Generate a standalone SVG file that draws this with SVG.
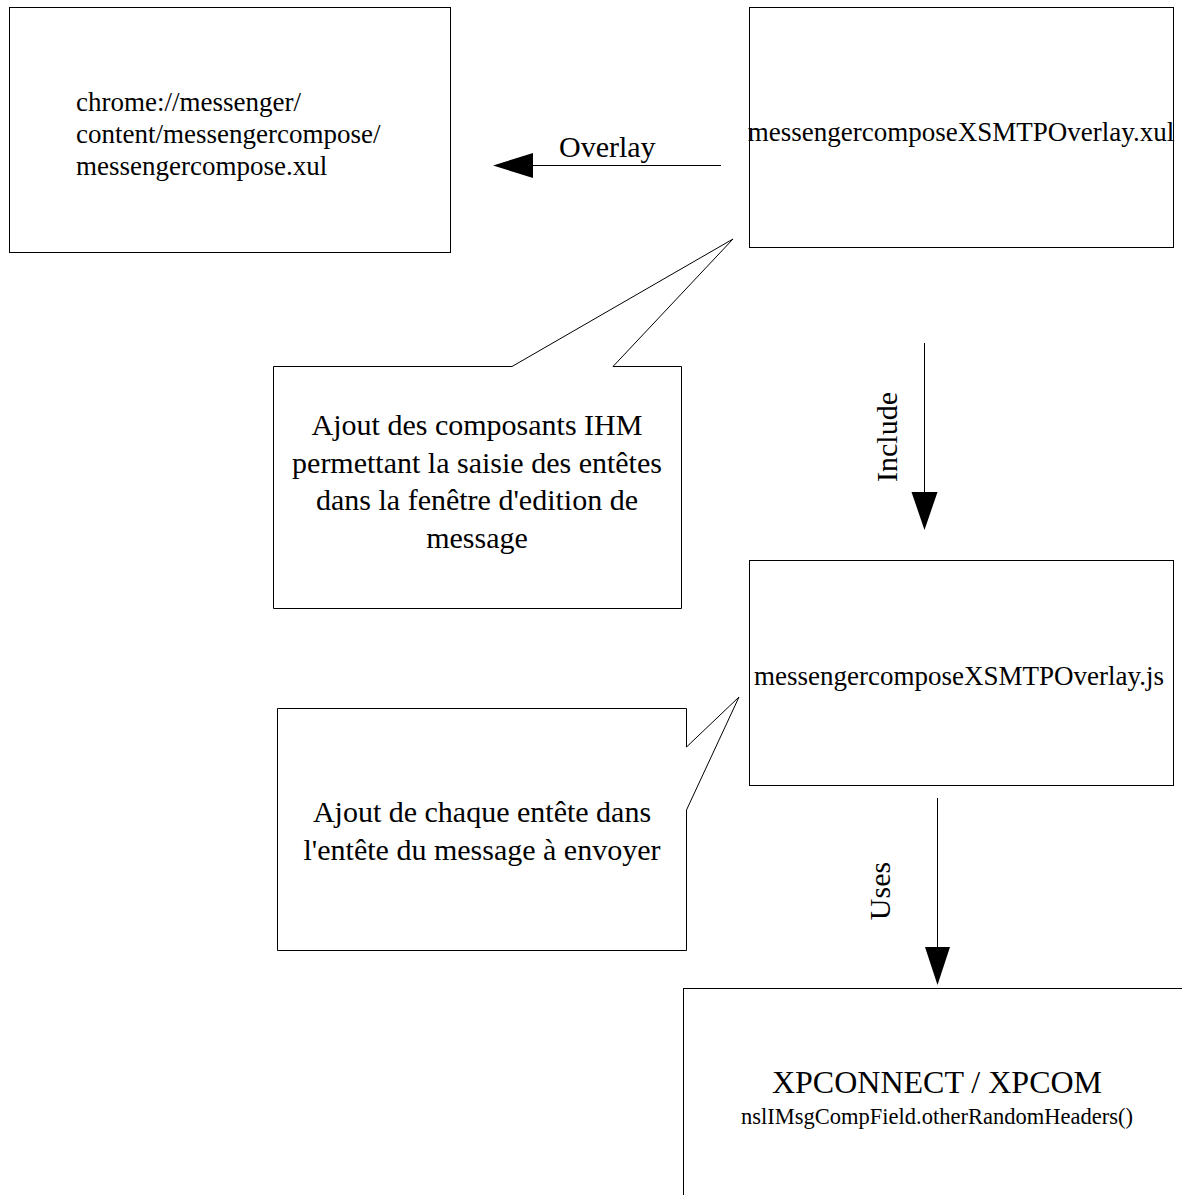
<svg xmlns="http://www.w3.org/2000/svg" width="1182" height="1195" viewBox="0 0 1182 1195">
  <style>
    .box { fill: #ffffff; stroke: #000000; stroke-width: 1; }
    .note { fill: #ffffff; stroke: #000000; stroke-width: 1; stroke-linejoin: miter; }
    .edge { fill: none; stroke: #000000; stroke-width: 1; }
    .head { fill: #000000; stroke: none; }
    text { font-family: "Liberation Serif", "Times New Roman", serif; fill: #000000; }
    .file { font-size: 27px; }
    .body { font-size: 30px; text-anchor: middle; }
    .lbl { font-size: 30px; }
  </style>
  <rect width="1182" height="1195" fill="#ffffff"/>

  <!-- connectors -->
  <g id="connectors">
    <g id="overlay-link">
      <line class="edge" x1="721" y1="165.5" x2="533" y2="165.5"/>
      <polygon class="head" points="493,165.5 533,153 533,178"/>
      <text class="lbl" x="559" y="157">Overlay</text>
    </g>
    <g id="include-link">
      <line class="edge" x1="924.5" y1="343" x2="924.5" y2="492"/>
      <polygon class="head" points="924.5,530 911.5,492 937.5,492"/>
      <text class="lbl" transform="translate(897 437) rotate(-90)" text-anchor="middle">Include</text>
    </g>
    <g id="uses-link">
      <line class="edge" x1="937.5" y1="798" x2="937.5" y2="947"/>
      <polygon class="head" points="937.5,985 925,947 950,947"/>
      <text class="lbl" transform="translate(890 891) rotate(-90)" text-anchor="middle">Uses</text>
    </g>
  </g>

  <!-- XUL window being overlaid -->
  <g id="node-messengercompose">
    <rect class="box" x="9.5" y="7.5" width="441" height="245"/>
    <text class="file" x="76" y="111">chrome://messenger/</text>
    <text class="file" x="76" y="143">content/messengercompose/</text>
    <text class="file" x="76" y="175">messengercompose.xul</text>
  </g>

  <!-- overlay XUL file -->
  <g id="node-overlay-xul">
    <rect class="box" x="749.5" y="7.5" width="424" height="240"/>
    <text class="file" x="961" y="141" text-anchor="middle">messengercomposeXSMTPOverlay.xul</text>
  </g>

  <!-- note on the XUL overlay -->
  <g id="note-ihm">
    <polygon class="note" points="273.5,366.5 512,366.5 733,239 613,366.5 681.5,366.5 681.5,608.5 273.5,608.5"/>
    <text class="body" x="477" y="435">Ajout des composants IHM</text>
    <text class="body" x="477" y="473">permettant la saisie des entêtes</text>
    <text class="body" x="477" y="510">dans la fenêtre d'edition de</text>
    <text class="body" x="477" y="548">message</text>
  </g>

  <!-- overlay script -->
  <g id="node-overlay-js">
    <rect class="box" x="749.5" y="560.5" width="424" height="225"/>
    <text class="file" x="959" y="685" text-anchor="middle">messengercomposeXSMTPOverlay.js</text>
  </g>

  <!-- note on the script -->
  <g id="note-headers">
    <polygon class="note" points="277.5,708.5 686.5,708.5 686.5,747 739,697 686.5,810 686.5,950.5 277.5,950.5"/>
    <text class="body" x="482" y="822">Ajout de chaque entête dans</text>
    <text class="body" x="482" y="860">l'entête du message à envoyer</text>
  </g>

  <!-- XPCOM layer -->
  <g id="node-xpcom">
    <rect class="box" x="683.5" y="988.5" width="560" height="260"/>
    <text x="937" y="1093" font-size="32" text-anchor="middle">XPCONNECT / XPCOM</text>
    <text x="937" y="1124" font-size="22.5" text-anchor="middle">nslIMsgCompField.otherRandomHeaders()</text>
  </g>
</svg>
